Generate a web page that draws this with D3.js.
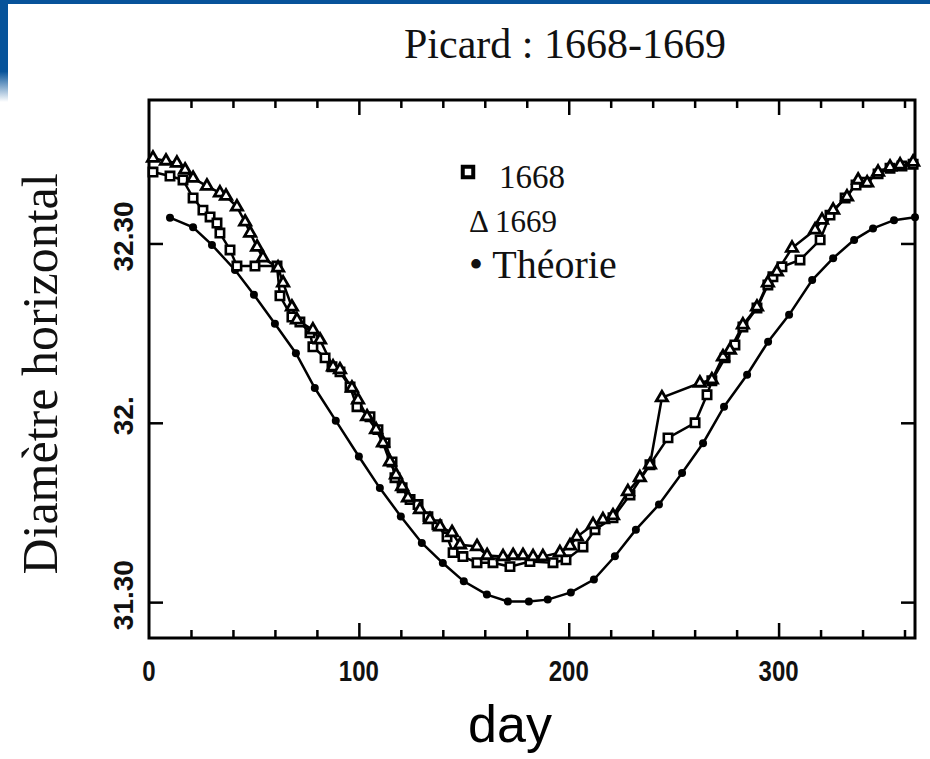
<!DOCTYPE html>
<html><head><meta charset="utf-8">
<script src="https://cdn.jsdelivr.net/npm/d3@7"></script>
<style>body{margin:0;background:#fff;overflow:hidden} svg{display:block}</style>
</head><body>
<svg id="c" width="930" height="759"></svg>
<script>
// ---------- data (day of year, horizontal diameter in arcmin, decimal) ----------
const titleText = "Picard : 1668-1669";
const xLabel = "day";
const yLabel = "Diamètre horizontal";
const xTickValues = [0, 100, 200, 300];
const xTickLabels = ["0", "100", "200", "300"];
const yTickValues = [32.5, 32.0, 31.5];
const yTickLabels = ["32.30", "32.", "31.30"];
const seriesNames = ["1668", "1669", "Théorie"];

const theoryDays = [10,21,30,41,50,60,70,79,89,100,110,120,130,140,150,161,171,181,190,201,212,222,232,243,254,264,274,285,295,305,316,326,336,345,355,365];
const theoryValues = [32.572,32.545,32.496,32.426,32.357,32.276,32.194,32.097,32.006,31.906,31.818,31.739,31.665,31.609,31.558,31.521,31.502,31.502,31.507,31.527,31.563,31.628,31.702,31.772,31.860,31.943,32.045,32.134,32.226,32.301,32.398,32.459,32.510,32.542,32.565,32.573];

const days1668 = [1.9,10,16.2,21,25.7,29.1,32.4,33.8,38.6,41.9,50.5,61,62.4,68.1,71.9,76.7,78.1,83.9,87.2,91,95.8,99.1,105.3,109.1,112.5,115.8,117.2,120.6,124.4,128.2,132.9,137.2,142,144.9,149.6,156.3,163.9,172,181.5,192.5,198.7,206.8,212.5,221.1,229.2,238.7,247.3,260.2,265.9,268.2,274.5,279.2,283,289.7,294.9,297.3,301.6,310.2,319.8,324.5,331.7,336.9,341.7,347.4,353.1,358.8,364.1];
const values1668 = [32.699,32.688,32.677,32.627,32.593,32.574,32.557,32.529,32.482,32.437,32.437,32.437,32.354,32.295,32.281,32.251,32.212,32.181,32.156,32.142,32.100,32.045,32.017,31.981,31.944,31.891,31.847,31.819,31.786,31.772,31.738,31.716,31.682,31.638,31.627,31.610,31.610,31.599,31.613,31.610,31.618,31.654,31.702,31.735,31.799,31.883,31.958,32.000,32.078,32.117,32.181,32.217,32.267,32.320,32.384,32.407,32.435,32.454,32.510,32.579,32.627,32.663,32.671,32.694,32.710,32.716,32.721];

const days1669 = [1.9,8.1,13.3,17.2,21,27.6,33.8,36.7,41.9,45.8,48.2,51.5,54.3,61.5,63.9,68.1,70.5,78.1,81.5,87.7,91,96.7,99.6,103.9,108.2,111.5,114.8,117.7,120.6,123.4,129.1,133.9,138.7,144.4,148.2,156.3,161.1,168.7,173.5,178.2,183,187.7,195.8,200.6,203.9,211.6,216.3,221.1,228.2,233.9,238.7,244.4,262.5,268.2,273.5,276.8,283,289.7,294.9,299.2,306.4,317.4,320.7,326,332.6,337.9,342.2,347.4,353.1,357.9,364.1];
const values1669 = [32.738,32.730,32.724,32.705,32.682,32.660,32.641,32.632,32.602,32.560,32.529,32.490,32.460,32.432,32.390,32.323,32.287,32.259,32.231,32.156,32.148,32.097,32.064,32.017,31.981,31.944,31.891,31.855,31.822,31.791,31.758,31.730,31.710,31.694,31.660,31.655,31.630,31.627,31.630,31.630,31.627,31.627,31.638,31.657,31.682,31.716,31.730,31.741,31.808,31.847,31.883,32.070,32.111,32.120,32.184,32.203,32.273,32.323,32.390,32.421,32.487,32.538,32.565,32.593,32.630,32.677,32.669,32.699,32.713,32.719,32.727];

// ---------- drawing ----------
const svg = d3.select("#c");
const W = 930, H = 759;
const x = d3.scaleLinear().domain([0, 365]).range([149, 915]);
const y = d3.scaleLinear().domain([31.4, 32.9]).range([638, 100]);

// blue slide frame
const defs = svg.append("defs");
const grad = defs.append("linearGradient").attr("id", "fade").attr("x1", 0).attr("x2", 0).attr("y1", 0).attr("y2", 1);
grad.append("stop").attr("offset", "0%").attr("stop-color", "#07539a");
grad.append("stop").attr("offset", "70%").attr("stop-color", "#07539a");
grad.append("stop").attr("offset", "100%").attr("stop-color", "#ffffff");
svg.append("rect").attr("x", 0).attr("y", 0).attr("width", W).attr("height", 4).attr("fill", "#07539a");
svg.append("rect").attr("x", 0).attr("y", 0).attr("width", 8).attr("height", 102).attr("fill", "url(#fade)");

const serif = "'Liberation Serif', 'DejaVu Serif', serif";
const sans = "'Liberation Sans', Arial, sans-serif";

// title
svg.append("text").attr("x", 565).attr("y", 58).attr("text-anchor", "middle")
  .attr("font-family", serif).attr("font-size", 42).attr("fill", "#111").text(titleText);

// ticks
const inner = (g) => g.call(s => s.select(".domain").remove()).selectAll("line").attr("stroke", "#000").attr("stroke-width", 2.5);
const minorY = d3.range(15, 29).map(i => i / 10).filter(v => yTickValues.indexOf(v) < 0);
const minorX = d3.range(20, 365, 20).filter(v => v % 100 !== 0);
const majX = xTickValues.filter(v => v > 0);

svg.append("g").attr("transform", "translate(149,0)").call(d3.axisLeft(y).tickValues(minorY).tickSize(-8).tickFormat("")).call(inner);
svg.append("g").attr("transform", "translate(149,0)").call(d3.axisLeft(y).tickValues(yTickValues).tickSize(-14).tickFormat("")).call(inner);
svg.append("g").attr("transform", "translate(915,0)").call(d3.axisRight(y).tickValues(minorY).tickSize(-9).tickFormat("")).call(inner);
svg.append("g").attr("transform", "translate(915,0)").call(d3.axisRight(y).tickValues(yTickValues).tickSize(-14).tickFormat("")).call(inner);
svg.append("g").attr("transform", "translate(0,638)").call(d3.axisBottom(x).tickValues(minorX).tickSize(-8).tickFormat("")).call(inner);
svg.append("g").attr("transform", "translate(0,638)").call(d3.axisBottom(x).tickValues(majX).tickSize(-15).tickFormat("")).call(inner);
svg.append("g").attr("transform", "translate(0,100)").call(d3.axisTop(x).tickValues(minorX).tickSize(-8).tickFormat("")).call(inner);
svg.append("g").attr("transform", "translate(0,100)").call(d3.axisTop(x).tickValues(majX).tickSize(-15).tickFormat("")).call(inner);

// frame
svg.append("rect").attr("x", 149).attr("y", 100).attr("width", 766).attr("height", 538)
  .attr("fill", "none").attr("stroke", "#000").attr("stroke-width", 3);

// tick labels
svg.selectAll(".xl").data(xTickValues).join("text")
  .attr("x", d => x(d)).attr("y", 681).attr("text-anchor", "middle")
  .attr("font-family", sans).attr("font-weight", "bold").attr("font-size", 30)
  .attr("transform", d => `translate(${x(d)},681) scale(0.8,1) translate(${-x(d)},-681)`)
  .attr("fill", "#111").text((d, i) => xTickLabels[i]);
svg.selectAll(".yl").data(yTickValues).join("text")
  .attr("transform", d => `translate(133,${y(d) - 7}) rotate(-90)`)
  .attr("text-anchor", "middle").attr("font-family", sans).attr("font-weight", "bold").attr("font-size", 28)
  .attr("fill", "#111").text((d, i) => yTickLabels[i]);

// axis titles
svg.append("text").attr("transform", "translate(57,374) rotate(-90)").attr("text-anchor", "middle")
  .attr("font-family", serif).attr("font-size", 50).attr("fill", "#111").text(yLabel);
svg.append("text").attr("x", 510).attr("y", 742).attr("text-anchor", "middle")
  .attr("font-family", sans).attr("font-size", 52).attr("fill", "#000").text(xLabel);

// series
const zip = (a, b) => a.map((d, i) => [d, b[i]]);
const s1668 = zip(days1668, values1668);
const s1669 = zip(days1669, values1669);
const sTh = zip(theoryDays, theoryValues);
const line = d3.line().x(d => x(d[0])).y(d => y(d[1]));

[sTh, s1668, s1669].forEach(s => {
  svg.append("path").attr("d", line(s)).attr("fill", "none").attr("stroke", "#000").attr("stroke-width", 2.5);
});

svg.selectAll(".th").data(sTh).join("circle")
  .attr("cx", d => x(d[0])).attr("cy", d => y(d[1])).attr("r", 4).attr("fill", "#000");
const sq = d3.symbol(d3.symbolSquare, 70);
svg.selectAll(".sq").data(s1668).join("path")
  .attr("d", sq).attr("transform", d => `translate(${x(d[0])},${y(d[1])})`)
  .attr("fill", "#fff").attr("stroke", "#000").attr("stroke-width", 2.6);
const tri = d3.symbol(d3.symbolTriangle, 55);
svg.selectAll(".tr").data(s1669).join("path")
  .attr("d", tri).attr("transform", d => `translate(${x(d[0])},${y(d[1])})`)
  .attr("fill", "#fff").attr("stroke", "#000").attr("stroke-width", 2.8);

// legend
svg.append("path").attr("d", d3.symbol(d3.symbolSquare, 110)()).attr("transform", "translate(468,172)")
  .attr("fill", "#fff").attr("stroke", "#000").attr("stroke-width", 4);
svg.append("text").attr("x", 499).attr("y", 188).attr("font-family", serif).attr("font-size", 33).attr("fill", "#111").text(seriesNames[0]);
svg.append("text").attr("x", 469).attr("y", 232).attr("font-family", serif).attr("font-size", 31).attr("fill", "#111").text("Δ " + seriesNames[1]);
svg.append("text").attr("x", 469).attr("y", 278).attr("font-family", serif).attr("font-size", 40).attr("fill", "#111").text("• " + seriesNames[2]);
</script>
</body></html>
